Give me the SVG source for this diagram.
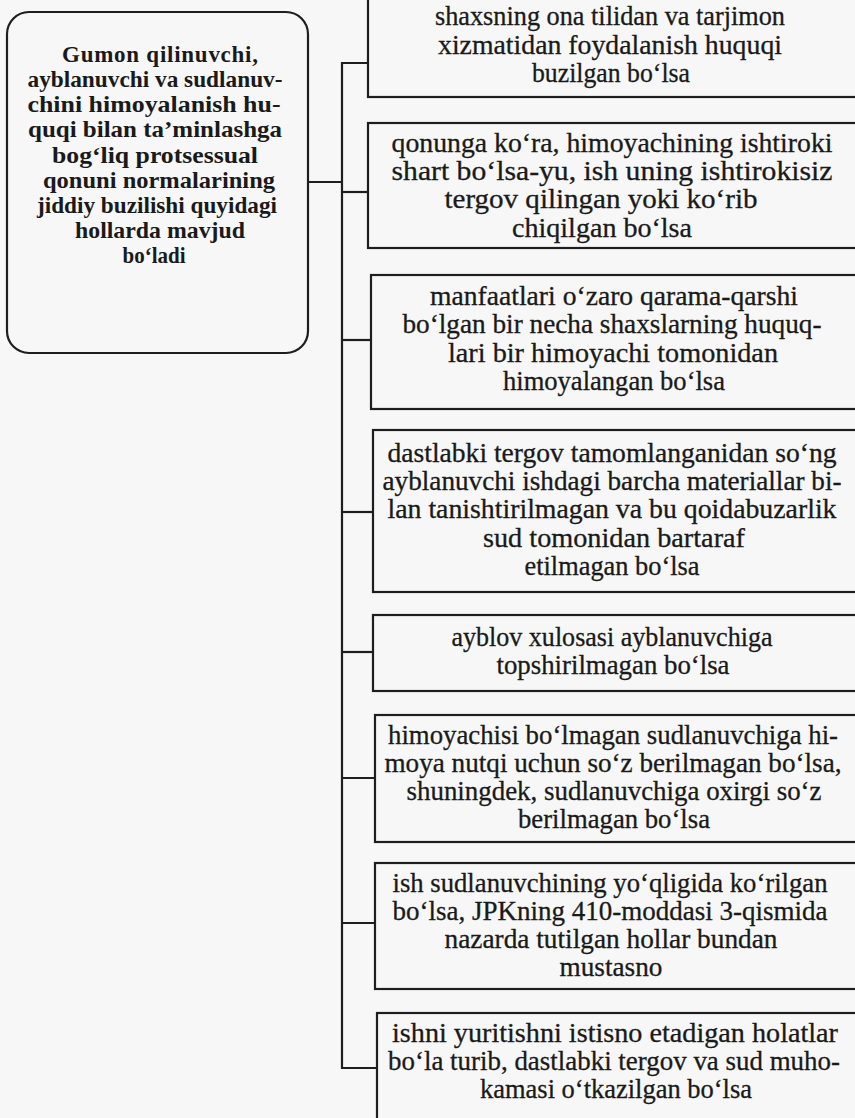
<svg xmlns="http://www.w3.org/2000/svg" width="855" height="1118" viewBox="0 0 855 1118">
<style>
.bg{fill:#f7f7f7}
.box{fill:none;stroke:#1e1e1e;stroke-width:2.2}
.ln{fill:none;stroke:#1e1e1e;stroke-width:2.2}
.t{font-family:"Liberation Serif","Times New Roman",serif;font-size:27px;fill:#1a1a1a;stroke:#1a1a1a;stroke-width:0.3;text-anchor:middle}
.b{font-family:"Liberation Serif","Times New Roman",serif;font-size:23px;font-weight:bold;fill:#1a1a1a;text-anchor:middle}
</style>
<rect class="bg" x="0" y="0" width="855" height="1118"/>
<g id="main">
<rect class="box" x="7" y="12" width="301" height="341" rx="22" ry="22"/>
<text class="b" x="160" y="62" textLength="196" lengthAdjust="spacing">Gumon qilinuvchi,</text>
<text class="b" x="155" y="87" textLength="255" lengthAdjust="spacingAndGlyphs">ayblanuvchi va sudlanuv-</text>
<text class="b" x="154" y="112" textLength="253" lengthAdjust="spacingAndGlyphs">chini himoyalanish hu-</text>
<text class="b" x="155" y="137" textLength="254" lengthAdjust="spacingAndGlyphs">quqi bilan ta’minlashga</text>
<text class="b" x="155" y="163" textLength="206" lengthAdjust="spacingAndGlyphs">bog‘liq protsessual</text>
<text class="b" x="159" y="188" textLength="232" lengthAdjust="spacingAndGlyphs">qonuni normalarining</text>
<text class="b" x="157" y="213" textLength="240" lengthAdjust="spacingAndGlyphs">jiddiy buzilishi quyidagi</text>
<text class="b" x="160" y="238" textLength="170" lengthAdjust="spacingAndGlyphs">hollarda mavjud</text>
<text class="b" x="154" y="263" textLength="63" lengthAdjust="spacingAndGlyphs">bo‘ladi</text>
</g>
<g id="connectors">
<polyline class="ln" points="308,182 342,182"/>
<polyline class="ln" points="368,63 342,63 342,1068 377,1068"/>
<polyline class="ln" points="342,192 368,192"/>
<polyline class="ln" points="342,340 371,340"/>
<polyline class="ln" points="342,512 373,512"/>
<polyline class="ln" points="342,652 373,652"/>
<polyline class="ln" points="342,778 375,778"/>
<polyline class="ln" points="342,923 375,923"/>
</g>
<g id="n1">
<rect class="box" x="368" y="-30" width="510" height="127"/>
<text class="t" x="610" y="25" textLength="350" lengthAdjust="spacingAndGlyphs">shaxsning ona tilidan va tarjimon</text>
<text class="t" x="610" y="54" textLength="344" lengthAdjust="spacingAndGlyphs">xizmatidan foydalanish huquqi</text>
<text class="t" x="611" y="82" textLength="158" lengthAdjust="spacingAndGlyphs">buzilgan bo‘lsa</text>
</g>
<g id="n2">
<rect class="box" x="368" y="123" width="510" height="125"/>
<text class="t" x="612" y="152" textLength="441" lengthAdjust="spacingAndGlyphs">qonunga ko‘ra, himoyachining ishtiroki</text>
<text class="t" x="612" y="180" textLength="441" lengthAdjust="spacingAndGlyphs">shart bo‘lsa-yu, ish uning ishtirokisiz</text>
<text class="t" x="601" y="208" textLength="313" lengthAdjust="spacingAndGlyphs">tergov qilingan yoki ko‘rib</text>
<text class="t" x="602" y="237" textLength="180" lengthAdjust="spacingAndGlyphs">chiqilgan bo‘lsa</text>
</g>
<g id="n3">
<rect class="box" x="371" y="275" width="510" height="134"/>
<text class="t" x="614" y="305" textLength="368" lengthAdjust="spacingAndGlyphs">manfaatlari o‘zaro qarama-qarshi</text>
<text class="t" x="612" y="333" textLength="419" lengthAdjust="spacingAndGlyphs">bo‘lgan bir necha shaxslarning huquq-</text>
<text class="t" x="613" y="362" textLength="330" lengthAdjust="spacingAndGlyphs">lari bir himoyachi tomonidan</text>
<text class="t" x="614" y="390" textLength="222" lengthAdjust="spacingAndGlyphs">himoyalangan bo‘lsa</text>
</g>
<g id="n4">
<rect class="box" x="373" y="430" width="510" height="162"/>
<text class="t" x="612" y="462" textLength="449" lengthAdjust="spacingAndGlyphs">dastlabki tergov tamomlanganidan so‘ng</text>
<text class="t" x="612" y="490" textLength="459" lengthAdjust="spacingAndGlyphs">ayblanuvchi ishdagi barcha materiallar bi-</text>
<text class="t" x="612" y="518" textLength="449" lengthAdjust="spacingAndGlyphs">lan tanishtirilmagan va bu qoidabuzarlik</text>
<text class="t" x="614" y="547" textLength="262" lengthAdjust="spacingAndGlyphs">sud tomonidan bartaraf</text>
<text class="t" x="612" y="575" textLength="175" lengthAdjust="spacingAndGlyphs">etilmagan bo‘lsa</text>
</g>
<g id="n5">
<rect class="box" x="373" y="615" width="510" height="76"/>
<text class="t" x="612" y="646" textLength="321" lengthAdjust="spacingAndGlyphs">ayblov xulosasi ayblanuvchiga</text>
<text class="t" x="613" y="674" textLength="233" lengthAdjust="spacingAndGlyphs">topshirilmagan bo‘lsa</text>
</g>
<g id="n6">
<rect class="box" x="375" y="715" width="510" height="127"/>
<text class="t" x="613" y="744" textLength="450" lengthAdjust="spacingAndGlyphs">himoyachisi bo‘lmagan sudlanuvchiga hi-</text>
<text class="t" x="613" y="772" textLength="457" lengthAdjust="spacingAndGlyphs">moya nutqi uchun so‘z berilmagan bo‘lsa,</text>
<text class="t" x="614" y="800" textLength="415" lengthAdjust="spacingAndGlyphs">shuningdek, sudlanuvchiga oxirgi so‘z</text>
<text class="t" x="614" y="828" textLength="192" lengthAdjust="spacingAndGlyphs">berilmagan bo‘lsa</text>
</g>
<g id="n7">
<rect class="box" x="375" y="863" width="510" height="126"/>
<text class="t" x="610" y="892" textLength="435" lengthAdjust="spacingAndGlyphs">ish sudlanuvchining yo‘qligida ko‘rilgan</text>
<text class="t" x="610" y="920" textLength="435" lengthAdjust="spacingAndGlyphs">bo‘lsa, JPKning 410-moddasi 3-qismida</text>
<text class="t" x="611" y="948" textLength="333" lengthAdjust="spacingAndGlyphs">nazarda tutilgan hollar bundan</text>
<text class="t" x="611" y="976" textLength="103" lengthAdjust="spacingAndGlyphs">mustasno</text>
</g>
<g id="n8">
<rect class="box" x="377" y="1013" width="510" height="130"/>
<text class="t" x="615" y="1042" textLength="446" lengthAdjust="spacingAndGlyphs">ishni yuritishni istisno etadigan holatlar</text>
<text class="t" x="614" y="1070" textLength="452" lengthAdjust="spacingAndGlyphs">bo‘la turib, dastlabki tergov va sud muho-</text>
<text class="t" x="616" y="1098" textLength="272" lengthAdjust="spacingAndGlyphs">kamasi o‘tkazilgan bo‘lsa</text>
</g>
</svg>
